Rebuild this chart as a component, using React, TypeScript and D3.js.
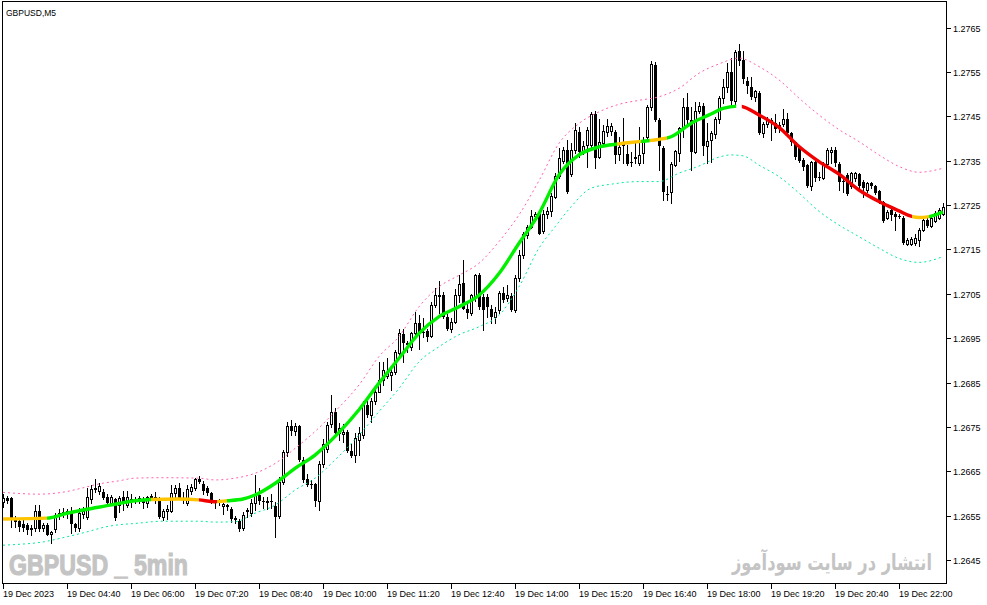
import * as d3 from "d3";

type Candle = [number, number, number, number]; // open, high, low, close
type Point = [number, number]; // bar index, price

const candles: Candle[] = [
  [1.26582, 1.266, 1.2657, 1.2659], [1.2659, 1.26595, 1.2658, 1.26584], [1.26591, 1.26593, 1.26526, 1.26544],
  [1.26542, 1.2655, 1.26525, 1.26536], [1.26538, 1.26545, 1.26515, 1.26526], [1.26531, 1.2654, 1.26515, 1.26522],
  [1.2653, 1.26535, 1.2651, 1.26518], [1.2652, 1.2653, 1.26508, 1.26522], [1.26522, 1.26574, 1.26515, 1.2656],
  [1.26561, 1.26574, 1.26515, 1.2652], [1.26522, 1.26535, 1.26515, 1.2653], [1.2653, 1.26535, 1.26506, 1.26507],
  [1.26509, 1.26517, 1.2649, 1.26513], [1.2652, 1.26557, 1.26514, 1.26553], [1.26553, 1.26565, 1.26544, 1.26557],
  [1.26557, 1.26568, 1.26548, 1.26559], [1.26559, 1.26566, 1.26546, 1.26561], [1.26561, 1.2657, 1.26511, 1.26531],
  [1.26531, 1.26535, 1.26515, 1.26522], [1.26523, 1.26568, 1.26515, 1.26556], [1.26554, 1.26569, 1.26545, 1.26561],
  [1.26548, 1.26612, 1.26544, 1.26593], [1.26589, 1.2662, 1.2658, 1.2661], [1.26612, 1.26633, 1.26604, 1.26608],
  [1.26605, 1.26624, 1.266, 1.26618], [1.26604, 1.2661, 1.26587, 1.26591], [1.26593, 1.266, 1.26578, 1.2658],
  [1.2658, 1.26596, 1.26574, 1.26592], [1.26588, 1.2659, 1.2654, 1.26545], [1.26574, 1.26594, 1.26559, 1.2659],
  [1.26592, 1.26606, 1.26563, 1.26578], [1.26575, 1.26606, 1.2657, 1.26592], [1.26589, 1.266, 1.2657, 1.26586],
  [1.26586, 1.26593, 1.26578, 1.26589], [1.2659, 1.26594, 1.26578, 1.26582], [1.26583, 1.26592, 1.26568, 1.2658],
  [1.26579, 1.26594, 1.2657, 1.26592], [1.26595, 1.266, 1.26589, 1.2659], [1.2659, 1.26604, 1.2658, 1.26592],
  [1.2659, 1.26592, 1.26545, 1.26548], [1.26548, 1.26565, 1.2654, 1.2656], [1.2656, 1.26574, 1.26544, 1.26565],
  [1.26561, 1.26619, 1.26558, 1.26601], [1.26602, 1.2662, 1.2659, 1.26613], [1.26612, 1.26624, 1.26588, 1.2659],
  [1.2659, 1.26604, 1.2658, 1.26588], [1.2658, 1.2662, 1.26575, 1.26611], [1.26606, 1.26622, 1.266, 1.26614],
  [1.26612, 1.26636, 1.26608, 1.26633], [1.26634, 1.2664, 1.26625, 1.26627], [1.26621, 1.26628, 1.266, 1.26606],
  [1.26612, 1.26618, 1.26598, 1.26601], [1.26601, 1.26604, 1.26578, 1.26583], [1.26584, 1.26586, 1.26568, 1.26581],
  [1.26581, 1.26588, 1.26575, 1.26586], [1.26573, 1.26578, 1.26555, 1.26576], [1.26574, 1.26576, 1.26563, 1.26571],
  [1.26565, 1.2657, 1.26537, 1.26543], [1.26542, 1.2655, 1.26535, 1.26546], [1.26539, 1.26542, 1.26516, 1.2652],
  [1.26522, 1.26558, 1.26518, 1.26552], [1.26561, 1.26567, 1.26548, 1.26564], [1.26557, 1.26588, 1.2655, 1.2658],
  [1.2658, 1.26642, 1.26563, 1.26597], [1.26596, 1.26612, 1.26576, 1.26583], [1.26584, 1.26593, 1.26567, 1.26582],
  [1.26582, 1.26593, 1.26565, 1.26584], [1.26584, 1.266, 1.26568, 1.26582], [1.26572, 1.26582, 1.26502, 1.26548],
  [1.2655, 1.26638, 1.26545, 1.26627], [1.26627, 1.26699, 1.26622, 1.26695], [1.26693, 1.26762, 1.26686, 1.26752],
  [1.26752, 1.26766, 1.26732, 1.26742], [1.26742, 1.2676, 1.26733, 1.26752], [1.26752, 1.26755, 1.26673, 1.26676],
  [1.26676, 1.26683, 1.26627, 1.26631], [1.26633, 1.26644, 1.26618, 1.2662], [1.26622, 1.2663, 1.26612, 1.26621],
  [1.26622, 1.26625, 1.26572, 1.26584], [1.26584, 1.26673, 1.26563, 1.26668], [1.26668, 1.26724, 1.2666, 1.26713],
  [1.267, 1.26762, 1.26695, 1.26755], [1.26758, 1.26822, 1.2675, 1.26785], [1.26785, 1.26792, 1.2673, 1.26736],
  [1.26736, 1.2676, 1.2672, 1.26748], [1.26734, 1.26758, 1.26717, 1.2674], [1.2674, 1.26743, 1.26695, 1.26696],
  [1.26696, 1.26713, 1.26683, 1.26685], [1.26687, 1.26736, 1.26672, 1.26725], [1.26721, 1.26751, 1.26687, 1.26736],
  [1.26732, 1.26808, 1.26725, 1.26804], [1.268, 1.2681, 1.26773, 1.26778], [1.26778, 1.26816, 1.26762, 1.26808],
  [1.26808, 1.26837, 1.26803, 1.2683], [1.2683, 1.26897, 1.26828, 1.26856], [1.26856, 1.26897, 1.26845, 1.26879],
  [1.26864, 1.26905, 1.2686, 1.26875], [1.26868, 1.26886, 1.26834, 1.26875], [1.26875, 1.26924, 1.2687, 1.2692],
  [1.26916, 1.26971, 1.26912, 1.26961], [1.2696, 1.26971, 1.26897, 1.26939], [1.26939, 1.26943, 1.2692, 1.26934],
  [1.26931, 1.26965, 1.26924, 1.26961], [1.26961, 1.2701, 1.26957, 1.26984], [1.26984, 1.27003, 1.26927, 1.26965],
  [1.26965, 1.26995, 1.26954, 1.26962], [1.26966, 1.2697, 1.26943, 1.26954], [1.26955, 1.27032, 1.26952, 1.27025],
  [1.27025, 1.27063, 1.2702, 1.27048], [1.27048, 1.27078, 1.27006, 1.27044], [1.27048, 1.27055, 1.26995, 1.26999],
  [1.26999, 1.27005, 1.26969, 1.2697], [1.2697, 1.26995, 1.26965, 1.26987], [1.26987, 1.27062, 1.26985, 1.27047],
  [1.27047, 1.27092, 1.27032, 1.27073], [1.27075, 1.27126, 1.27015, 1.27017], [1.27017, 1.27032, 1.26995, 1.27006],
  [1.27006, 1.2705, 1.27002, 1.27047], [1.27044, 1.27095, 1.27035, 1.27093], [1.27093, 1.27096, 1.27015, 1.27021],
  [1.27044, 1.2705, 1.26969, 1.27014], [1.27044, 1.2705, 1.26999, 1.2702], [1.27017, 1.27025, 1.26985, 1.26999],
  [1.26999, 1.2702, 1.26984, 1.2701], [1.27013, 1.27056, 1.27008, 1.27053], [1.27052, 1.27066, 1.27032, 1.27036],
  [1.2704, 1.2707, 1.27035, 1.27047], [1.27045, 1.27052, 1.27012, 1.27014], [1.27014, 1.27092, 1.2701, 1.27085],
  [1.27085, 1.27149, 1.2708, 1.27138], [1.27138, 1.2719, 1.2713, 1.27186], [1.27182, 1.27205, 1.27175, 1.27201],
  [1.27201, 1.27239, 1.27198, 1.27225], [1.27226, 1.27235, 1.27215, 1.27231], [1.27231, 1.27235, 1.27185, 1.27186],
  [1.27192, 1.2724, 1.27188, 1.27231], [1.27231, 1.27245, 1.2722, 1.27236], [1.27237, 1.27277, 1.27225, 1.2727],
  [1.27269, 1.27323, 1.27265, 1.27315], [1.27315, 1.27378, 1.2731, 1.27355], [1.2735, 1.27381, 1.27345, 1.27375],
  [1.27375, 1.27396, 1.27277, 1.2728], [1.27321, 1.27389, 1.27315, 1.27375], [1.27375, 1.27434, 1.27368, 1.2742],
  [1.27415, 1.27426, 1.27359, 1.2737], [1.2737, 1.27395, 1.27365, 1.27383], [1.27385, 1.27425, 1.27336, 1.27419],
  [1.27385, 1.2746, 1.2738, 1.27455], [1.27455, 1.27462, 1.27333, 1.27355], [1.27359, 1.27445, 1.27355, 1.27393],
  [1.27389, 1.2743, 1.27385, 1.27417], [1.27415, 1.27443, 1.27405, 1.27428], [1.27417, 1.27435, 1.27408, 1.27428],
  [1.27415, 1.2742, 1.27344, 1.27363], [1.27366, 1.27404, 1.27351, 1.27381], [1.27386, 1.27447, 1.27344, 1.27387],
  [1.27365, 1.27385, 1.2734, 1.27342], [1.27347, 1.2737, 1.27338, 1.27344], [1.27355, 1.27393, 1.27344, 1.27359],
  [1.27345, 1.27426, 1.2734, 1.27363], [1.27367, 1.27404, 1.27344, 1.27397], [1.27404, 1.27476, 1.27397, 1.27472],
  [1.27472, 1.27575, 1.27464, 1.27568], [1.27566, 1.27573, 1.2744, 1.27442], [1.27442, 1.27446, 1.27329, 1.27382],
  [1.27378, 1.27382, 1.27262, 1.2728], [1.27275, 1.27292, 1.27262, 1.27273], [1.2728, 1.27346, 1.27254, 1.27343],
  [1.27341, 1.27375, 1.27338, 1.27372], [1.27367, 1.27426, 1.27349, 1.27423], [1.27423, 1.27492, 1.27404, 1.27472],
  [1.27472, 1.27502, 1.27434, 1.27442], [1.27442, 1.27472, 1.27329, 1.2737], [1.2737, 1.27483, 1.27367, 1.27463],
  [1.27463, 1.27483, 1.27458, 1.27473], [1.27473, 1.2748, 1.27363, 1.27382], [1.27383, 1.27434, 1.27344, 1.27395],
  [1.27397, 1.27416, 1.27348, 1.27412], [1.2741, 1.27448, 1.274, 1.27443], [1.27443, 1.27495, 1.27436, 1.27491],
  [1.27491, 1.27533, 1.2748, 1.27515], [1.27515, 1.27569, 1.27505, 1.27549], [1.27549, 1.27581, 1.27475, 1.27485],
  [1.27485, 1.27599, 1.27478, 1.27594], [1.27598, 1.27613, 1.27565, 1.27575], [1.27577, 1.27596, 1.27524, 1.27533],
  [1.2753, 1.27538, 1.27502, 1.27518], [1.27515, 1.27538, 1.27488, 1.27493], [1.27493, 1.2751, 1.27485, 1.27508],
  [1.27503, 1.27506, 1.2741, 1.27413], [1.27413, 1.27438, 1.27404, 1.27433], [1.27433, 1.27449, 1.27426, 1.27442],
  [1.27442, 1.27446, 1.27397, 1.2744], [1.27434, 1.27455, 1.27415, 1.27421], [1.27423, 1.27438, 1.27415, 1.2743],
  [1.27433, 1.27466, 1.27428, 1.27443], [1.27445, 1.27458, 1.27408, 1.27413], [1.27413, 1.27415, 1.27385, 1.27391],
  [1.27391, 1.27393, 1.27354, 1.27358], [1.27383, 1.27385, 1.27346, 1.2735], [1.27352, 1.27355, 1.2733, 1.27335],
  [1.2734, 1.27343, 1.2729, 1.27292], [1.27292, 1.2735, 1.27284, 1.27346], [1.27346, 1.2735, 1.27305, 1.2731],
  [1.27314, 1.27325, 1.27306, 1.27312], [1.27312, 1.27348, 1.27308, 1.27343], [1.27343, 1.27378, 1.27338, 1.27374],
  [1.2737, 1.2738, 1.27344, 1.27374], [1.27374, 1.2738, 1.27338, 1.27344], [1.27343, 1.27346, 1.27284, 1.27301],
  [1.27305, 1.27314, 1.2728, 1.27301], [1.27318, 1.27322, 1.27272, 1.27276], [1.27292, 1.27325, 1.27288, 1.27322],
  [1.2731, 1.27324, 1.27305, 1.27322], [1.2732, 1.27323, 1.27288, 1.27292], [1.27303, 1.27306, 1.27269, 1.27288],
  [1.27284, 1.27303, 1.2728, 1.273], [1.27299, 1.27302, 1.27288, 1.27292], [1.27292, 1.27295, 1.27275, 1.27278],
  [1.27282, 1.27284, 1.27255, 1.27258], [1.27258, 1.2726, 1.27212, 1.27215], [1.2722, 1.27238, 1.27218, 1.27235],
  [1.27239, 1.27243, 1.27216, 1.27228], [1.27231, 1.27235, 1.27194, 1.27224], [1.27225, 1.27231, 1.2722, 1.27224],
  [1.27222, 1.27225, 1.27162, 1.27165], [1.27162, 1.27175, 1.2716, 1.27171], [1.27162, 1.27178, 1.2716, 1.27173],
  [1.27164, 1.27186, 1.2716, 1.27177], [1.27171, 1.27198, 1.27158, 1.27195], [1.27195, 1.2722, 1.27192, 1.27216],
  [1.27216, 1.2722, 1.272, 1.27203], [1.27203, 1.27225, 1.272, 1.27222], [1.27215, 1.27236, 1.27212, 1.27233],
  [1.2722, 1.27243, 1.27218, 1.27239], [1.27231, 1.27254, 1.27228, 1.27246],
];

// trend line (middle) and the two dotted envelopes
const midLine: Point[] = [
  [0, 1.26543], [11, 1.26545], [16, 1.26556], [21, 1.26565], [26, 1.26573], [29, 1.26578], [33, 1.26584],
  [37, 1.26587], [44, 1.26588], [49, 1.26586], [53, 1.26582], [56, 1.26584], [60, 1.26588], [63, 1.26597],
  [68, 1.26623], [73, 1.26657], [78, 1.26687], [84, 1.26738], [89, 1.26789], [94, 1.26849], [99, 1.26905],
  [104, 1.26961], [109, 1.26999], [114, 1.27021], [119, 1.27047], [124, 1.27096], [129, 1.27164], [134, 1.27231],
  [139, 1.27318], [144, 1.27363], [149, 1.27381], [154, 1.27388], [159, 1.27393], [164, 1.27398], [167, 1.27404],
  [172, 1.27434], [177, 1.27455], [180, 1.27468], [184, 1.27473], [189, 1.27453], [194, 1.27425], [199, 1.27382],
  [204, 1.27348], [209, 1.2732], [214, 1.27284], [219, 1.27258], [224, 1.27237], [227, 1.27225], [229, 1.27222],
  [232, 1.27225], [235, 1.27235],
];

const upperBand: Point[] = [
  [0, 1.26603], [9, 1.26599], [16, 1.26605], [19, 1.26611], [24, 1.26622], [29, 1.26629], [33, 1.26635],
  [40, 1.26636], [49, 1.26635], [53, 1.26631], [58, 1.26635], [63, 1.26646], [68, 1.26668], [73, 1.26702],
  [78, 1.2674], [83, 1.26785], [89, 1.26845], [94, 1.26909], [99, 1.26954], [104, 1.27021], [109, 1.27066],
  [114, 1.27092], [119, 1.27119], [124, 1.27168], [129, 1.27228], [134, 1.27305], [139, 1.27389], [144, 1.27434],
  [149, 1.2746], [154, 1.27477], [159, 1.27486], [164, 1.27494], [169, 1.27513], [174, 1.27547], [179, 1.27568],
  [184, 1.27581], [189, 1.27562], [194, 1.27532], [199, 1.27491], [204, 1.27453], [209, 1.2742], [214, 1.27393],
  [219, 1.27363], [224, 1.27337], [229, 1.27324], [235, 1.27333],
];

const lowerBand: Point[] = [
  [0, 1.26484], [4, 1.26486], [9, 1.2649], [16, 1.26503], [21, 1.26514], [26, 1.26526], [29, 1.2653],
  [33, 1.26533], [40, 1.26538], [49, 1.26538], [53, 1.26536], [58, 1.26537], [63, 1.26556], [68, 1.26574],
  [73, 1.26608], [78, 1.26635], [83, 1.26676], [89, 1.26732], [94, 1.26785], [99, 1.26837], [104, 1.26897],
  [109, 1.26931], [114, 1.26958], [119, 1.26976], [124, 1.27002], [129, 1.27066], [134, 1.27153], [138, 1.27201],
  [142, 1.27246], [147, 1.27288], [152, 1.27297], [159, 1.27303], [164, 1.27303], [169, 1.27322], [174, 1.27338],
  [179, 1.27358], [182, 1.27363], [185, 1.27361], [189, 1.2734], [194, 1.27314], [199, 1.27277], [204, 1.27236],
  [209, 1.27205], [214, 1.27179], [219, 1.27153], [224, 1.2713], [229, 1.27121], [235, 1.27134],
];

// bar ranges where the trend line changes colour
const trendSegments: [number, number, string][] = [
  [0, 11, "up"], [11, 37, "dn"], [37, 49, "up"], [49, 53.5, "ex"], [53.5, 56, "up"],
  [56, 153.5, "dn"], [153.5, 159.5, "up"], [159.5, 161.7, "dn"], [161.7, 166, "up"],
  [166, 183.3, "dn"], [184.7, 227.3, "ex"], [227.3, 231.5, "up"], [231.5, 235.5, "dn"],
];
const trendColors: Record<string, string> = { up: "#ffc400", dn: "#00f000", ex: "#f00000" };

const priceTicks = [
  1.2645, 1.2655, 1.2665, 1.2675, 1.2685, 1.2695, 1.2705, 1.2715, 1.2725, 1.2735, 1.2745, 1.2755, 1.2765,
];

const timeLabels = [
  "19 Dec 2023", "19 Dec 04:40", "19 Dec 06:00", "19 Dec 07:20", "19 Dec 08:40", "19 Dec 10:00",
  "19 Dec 11:20", "19 Dec 12:40", "19 Dec 14:00", "19 Dec 15:20", "19 Dec 16:40", "19 Dec 18:00",
  "19 Dec 19:20", "19 Dec 20:40", "19 Dec 22:00",
];
const timeTickBars = [0, 16, 32, 48, 64, 80, 96, 112, 128, 144, 160, 176, 192, 208, 224];

const W = 987;
const H = 605;
const frame = { left: 2.5, top: 1.5, right: 946.5, bottom: 583.5 };

const Chart = () => {
  const x = d3.scaleLinear().domain([0, candles.length - 1]).range([3, 943]);
  const y = d3.scaleLinear().domain([1.2645, 1.2765]).range([560.3, 27.5]);
  const curve = d3
    .line<Point>()
    .x((d) => x(d[0]))
    .y((d) => y(d[1]))
    .curve(d3.curveMonotoneX);

  const font = "'Liberation Sans', Arial, sans-serif";

  return (
    <svg width={W} height={H} style={{ position: "absolute", left: 0, top: 0, background: "#fff" }}>
      <defs>
        {trendSegments.map(([a, b], i) => (
          <clipPath key={i} id={`seg${i}`}>
            <rect x={x(a)} y={0} width={x(b) - x(a)} height={H} />
          </clipPath>
        ))}
        <clipPath id="plot">
          <rect x={frame.left} y={frame.top} width={frame.right - frame.left} height={frame.bottom - frame.top} />
        </clipPath>
      </defs>

      <text x={9} y={575} fontFamily={font} fontWeight="bold" fontSize={30} fill="#c4c4c4" stroke="#c4c4c4" strokeWidth={1.2} textLength={179} lengthAdjust="spacingAndGlyphs">
        GBPUSD _ 5min
      </text>
      <text x={832} y={570} fontFamily="'DejaVu Sans', sans-serif" fontWeight="bold" fontSize={22} fill="#c4c4c4" textAnchor="middle" textLength={200} lengthAdjust="spacingAndGlyphs">
        انتشار در سایت سودآموز
      </text>

      <g clipPath="url(#plot)" shapeRendering="crispEdges">
        {candles.map(([o, h, l, c], i) => {
          const cx = Math.round(x(i));
          const top = Math.round(y(Math.max(o, c)));
          const bot = Math.round(y(Math.min(o, c)));
          const bull = c >= o;
          return (
            <g key={i}>
              <line x1={cx + 0.5} x2={cx + 0.5} y1={Math.round(y(h))} y2={Math.round(y(l)) + 1} stroke="#000" />
              {bull ? (
                <rect x={cx - 0.5} y={top + 0.5} width={2} height={Math.max(bot - top, 0)} fill="#fff" stroke="#000" />
              ) : (
                <rect x={cx - 1} y={top} width={3} height={Math.max(bot - top, 1)} fill="#000" />
              )}
            </g>
          );
        })}
      </g>

      <g clipPath="url(#plot)" fill="none">
        <path d={curve(upperBand) ?? ""} stroke="#ff5fae" strokeWidth={1} strokeDasharray="2 3" />
        <path d={curve(lowerBand) ?? ""} stroke="#00ea96" strokeWidth={1} strokeDasharray="2 3" />
        {trendSegments.map(([, , kind], i) => (
          <path key={i} d={curve(midLine) ?? ""} stroke={trendColors[kind]} strokeWidth={3.4} clipPath={`url(#seg${i})`} />
        ))}
      </g>

      <g shapeRendering="crispEdges" stroke="#000" fill="none">
        <rect x={frame.left} y={frame.top} width={frame.right - frame.left} height={frame.bottom - frame.top} />
        {priceTicks.map((p) => {
          const py = Math.round(y(p)) + 0.5;
          return <line key={p} x1={frame.right} x2={frame.right + 4} y1={py} y2={py} />;
        })}
        {timeTickBars.map((b) => {
          const tx = Math.round(x(b)) + 0.5;
          return <line key={b} x1={tx} x2={tx} y1={frame.bottom} y2={frame.bottom + 5} />;
        })}
      </g>

      <g fontFamily={font} fontSize={9} fill="#000">
        {priceTicks.map((p) => (
          <text key={p} x={953} y={Math.round(y(p)) + 3.5}>
            {p.toFixed(4)}
          </text>
        ))}
        {timeLabels.map((t, i) => (
          <text key={t} x={Math.round(x(timeTickBars[i]))} y={597}>
            {t}
          </text>
        ))}
        <text x={6} y={16} fontSize={8.5}>
          GBPUSD,M5
        </text>
      </g>
    </svg>
  );
};

export default function App() {
  return (
    <div>
      <Chart />
    </div>
  );
}
